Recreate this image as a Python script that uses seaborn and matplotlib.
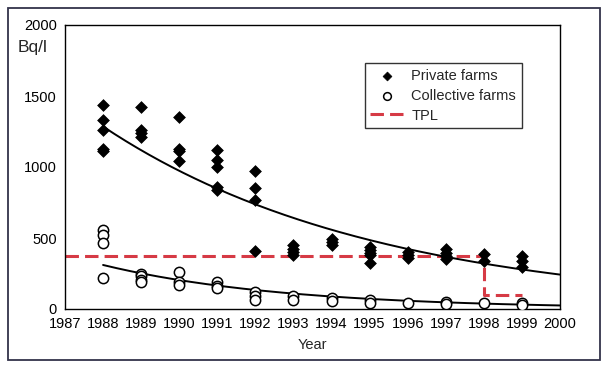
import numpy as np
import pandas as pd
import matplotlib
matplotlib.use("Agg")
import matplotlib.pyplot as plt
import seaborn as sns
from matplotlib.patches import Rectangle

private_years = ([1988] * 5 + [1989] * 4 + [1990] * 4 + [1991] * 5 + [1992] * 4 + [1993] * 4
                 + [1994] * 3 + [1995] * 5 + [1996] * 3 + [1997] * 4 + [1998] * 2 + [1999] * 3)
private_bq = [1440, 1330, 1260, 1130, 1110,
              1420, 1260, 1240, 1210,
              1350, 1130, 1110, 1040,
              1120, 1050, 1000, 860, 840,
              975, 855, 770, 410,
              450, 425, 400, 380,
              490, 470, 450,
              440, 415, 395, 380, 325,
              400, 380, 360,
              420, 395, 375, 355,
              390, 340,
              370, 340, 295]

collective_years = ([1988] * 4 + [1989] * 4 + [1990] * 3 + [1991] * 3 + [1992] * 3 + [1993] * 2
                    + [1994] * 2 + [1995] * 2 + [1996] + [1997] * 2 + [1998] + [1999] * 2)
collective_bq = [555, 520, 465, 220,
                 250, 230, 205, 190,
                 260, 190, 170,
                 190, 165, 145,
                 120, 90, 65,
                 95, 65,
                 80, 55,
                 60, 45,
                 40,
                 50, 35,
                 40,
                 45, 30]

# exponential trend lines: value = a * exp(-k * (year - 1988))
private_fit = (1285, 0.139)
collective_fit = (310, 0.21)

# temporary permissible level
tpl_years = [1987, 1998, 1998, 1999]
tpl_bq = [370, 370, 100, 100]

x_ticks = list(range(1987, 2001))
y_ticks = [0, 500, 1000, 1500, 2000]

red = "#d63a45"

sns.set_theme(style="white")
plt.rcParams['font.family'] = ['Liberation Sans', 'DejaVu Sans']

fig = plt.figure(figsize=(6.09, 3.67), dpi=100)
ax = fig.add_axes([65 / 609, 1 - 309 / 367, 495 / 609, 284 / 367])

private = pd.DataFrame({'year': private_years, 'bq': private_bq})
collective = pd.DataFrame({'year': collective_years, 'bq': collective_bq})
tpl = pd.DataFrame({'year': tpl_years, 'bq': tpl_bq})

yy = np.linspace(1988, 2000, 200)
trend = pd.DataFrame({
    'year': yy,
    'private': private_fit[0] * np.exp(-private_fit[1] * (yy - 1988)),
    'collective': collective_fit[0] * np.exp(-collective_fit[1] * (yy - 1988)),
})

sns.lineplot(data=tpl, x='year', y='bq', ax=ax, color=red, lw=2.2, sort=False,
             estimator=None, dashes=False, label='TPL', zorder=2)
ax.lines[-1].set_dashes((4.4, 2.0))

sns.lineplot(data=trend, x='year', y='private', ax=ax, color='black', lw=1.4, legend=False, zorder=3)
sns.lineplot(data=trend, x='year', y='collective', ax=ax, color='black', lw=1.4, legend=False, zorder=3)

sns.scatterplot(data=private, x='year', y='bq', ax=ax, marker='D', s=36, color='black',
                edgecolor='black', linewidth=0.5, label='Private farms', zorder=4)
sns.scatterplot(data=collective, x='year', y='bq', ax=ax, marker='o', s=55, facecolor='white',
                edgecolor='black', linewidth=1.1, label='Collective farms', zorder=4)

ax.set_xlim(1987, 2000)
ax.set_ylim(0, 2000)
ax.set_xticks(x_ticks)
ax.set_yticks(y_ticks)
ax.tick_params(direction='inout', length=8, width=1, colors='black', labelsize=10.5, pad=2)
for s in ax.spines.values():
    s.set_color('black')
    s.set_linewidth(1)
ax.set_xlabel('Year', fontsize=10.5, labelpad=5)
ax.set_ylabel('')
ax.text(-0.095, 0.92, 'Bq/l', transform=ax.transAxes, fontsize=12.5, ha='left', va='center')

handles, labels = ax.get_legend_handles_labels()
order = [labels.index(n) for n in ['Private farms', 'Collective farms', 'TPL']]
leg = ax.legend([handles[i] for i in order], [labels[i] for i in order],
                loc='upper right', bbox_to_anchor=(0.923, 0.866), borderaxespad=0,
                fontsize=10.5, markerscale=0.75,
                frameon=True, fancybox=False, edgecolor='black', handlelength=2.2,
                handletextpad=0.6, borderpad=0.4, labelspacing=0.4)
leg.get_frame().set_linewidth(1)

fig.patches.append(Rectangle((8 / 609, 1 - 360 / 367), 592 / 609, 352 / 367,
                             transform=fig.transFigure, fill=False,
                             edgecolor='#33334a', lw=1.3))

fig.savefig('out.png', dpi=100)
